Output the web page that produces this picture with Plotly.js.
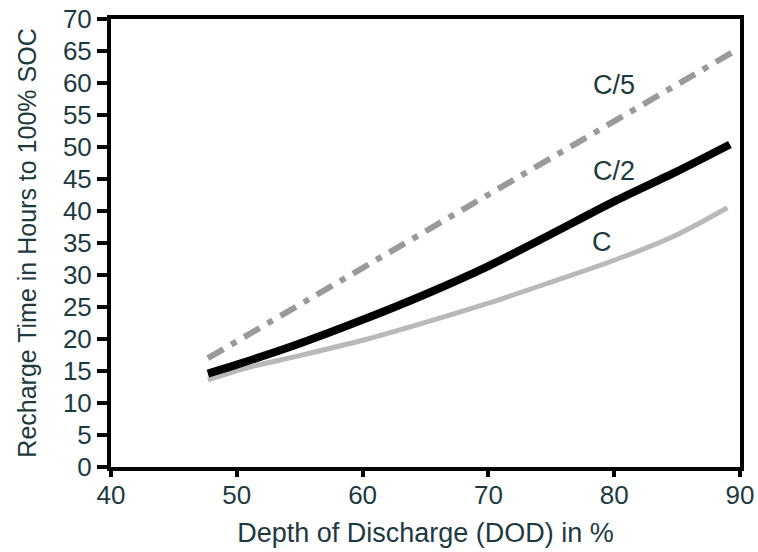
<!DOCTYPE html>
<html>
<head>
<meta charset="utf-8">
<script src="https://cdn.plot.ly/plotly-3.0.1.min.js"></script>
<style>html,body{margin:0;padding:0;background:#fff;}#chart{width:758px;height:552px;}</style>
</head>
<body>
<div id="chart"></div>
<script>
var dodC5 = [47.7, 89.4];
var timeC5 = [17.0, 64.8];
var dodC2 = [47.7, 50, 55, 60, 65, 70, 75, 80, 85, 89.2];
var timeC2 = [14.6, 16.0, 19.3, 23.0, 27.0, 31.4, 36.4, 41.5, 46.2, 50.4];
var dodC = [47.7, 51, 55, 60, 65, 70, 75, 80, 85, 89];
var timeC = [13.6, 15.6, 17.4, 19.8, 22.6, 25.6, 28.9, 32.3, 36.3, 40.5];
var xTicks = [40, 50, 60, 70, 80, 90];
var yTicks = [0, 5, 10, 15, 20, 25, 30, 35, 40, 45, 50, 55, 60, 65, 70];
var seriesLabels = ["C/5", "C/2", "C"];
var labelX = [80.0, 80.0, 79.0];
var labelY = [59.7, 46.3, 35.2];

var txt = '#1d3a3f';
var font = 'Liberation Sans, Arial, Helvetica, sans-serif';

var traces = [
  {x: dodC, y: timeC, mode: 'lines', line: {color: '#b9b9b9', width: 5, shape: 'spline', smoothing: 0.8}, hoverinfo: 'none'},
  {x: dodC2, y: timeC2, mode: 'lines', line: {color: '#000000', width: 8, shape: 'spline', smoothing: 0.8}, hoverinfo: 'none'},
  {x: dodC5, y: timeC5, mode: 'lines', line: {color: '#9a9a9a', width: 6, dash: '18px,9px,6px,9px'}, hoverinfo: 'none'}
];

var annotations = seriesLabels.map(function(t, i) {
  return {x: labelX[i], y: labelY[i], xref: 'x', yref: 'y', text: t, showarrow: false,
          font: {family: font, size: 27, color: txt}};
});

var layout = {
  width: 758, height: 552,
  margin: {l: 111, r: 18, t: 19, b: 85, pad: 0},
  paper_bgcolor: '#ffffff', plot_bgcolor: '#ffffff',
  showlegend: false,
  font: {family: font, color: txt},
  xaxis: {
    range: [40, 90], tickvals: xTicks, ticktext: xTicks.map(String),
    showgrid: false, zeroline: false,
    showline: true, linecolor: '#000', linewidth: 4, mirror: true,
    ticks: 'outside', ticklen: 6, tickwidth: 4, tickcolor: '#000',
    ticklabelstandoff: -4,
    tickfont: {family: font, size: 26, color: txt},
    title: {text: 'Depth of Discharge (DOD) in %', font: {family: font, size: 27, color: txt}, standoff: 15}
  },
  yaxis: {
    range: [0, 70], tickvals: yTicks, ticktext: yTicks.map(String),
    showgrid: false, zeroline: false,
    showline: true, linecolor: '#000', linewidth: 4, mirror: true,
    ticks: 'outside', ticklen: 10, tickwidth: 4, tickcolor: '#000',
    tickfont: {family: font, size: 26, color: txt},
    title: {text: 'Recharge Time in Hours to 100% SOC', font: {family: font, size: 25, color: txt}, standoff: 20}
  },
  annotations: annotations
};

Plotly.newPlot('chart', traces, layout, {displayModeBar: false, staticPlot: true});
</script>
</body>
</html>
